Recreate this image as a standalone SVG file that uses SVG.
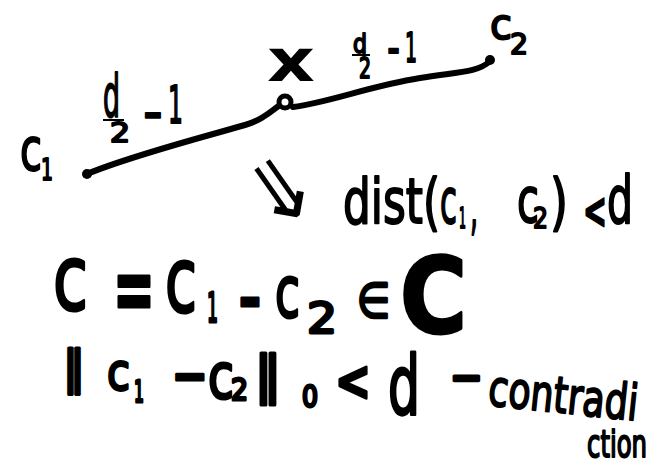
<svg xmlns="http://www.w3.org/2000/svg" width="656" height="470" viewBox="0 0 656 470">
<style>
.t{font-family:"DejaVu Sans","Liberation Sans",sans-serif;fill:#000}
.b{font-weight:bold}
.s2{stroke:#000;stroke-width:2;stroke-linejoin:round}
.s3{stroke:#000;stroke-width:3;stroke-linejoin:round}
.ln{fill:none;stroke:#000;stroke-width:6;stroke-linecap:round;stroke-linejoin:round}
</style>
<rect width="656" height="470" fill="#fff"/>
<g id="connectors">
<path class="ln" d="M87 174 C130 156,200 138,245 125 C262 120,270 112,280 105"/>
<path class="ln" d="M293 107 C330 102,370 86,420 78 C455 72,478 73,490 61"/>
</g>
<g id="c1">
<circle cx="87" cy="174" r="5"/>
<text class="t s2" font-size="58"><tspan x="20" y="170" textLength="22" lengthAdjust="spacingAndGlyphs">c</tspan><tspan x="41" y="180" font-size="30" textLength="12" lengthAdjust="spacingAndGlyphs">1</tspan></text>
</g>
<g id="c2">
<circle cx="490" cy="60" r="5"/>
<text class="t s2" font-size="42"><tspan x="490" y="39" textLength="22" lengthAdjust="spacingAndGlyphs">c</tspan><tspan x="510" y="54" font-size="28" textLength="18" lengthAdjust="spacingAndGlyphs">2</tspan></text>
</g>
<g id="x">
<circle cx="285" cy="102" r="6" fill="#fff" stroke="#000" stroke-width="5"/>
<text class="t b" x="267" y="81" font-size="58" textLength="48" lengthAdjust="spacingAndGlyphs">x</text>
</g>
<g id="label-left">
<line x1="103" y1="120" x2="124" y2="120" stroke="#000" stroke-width="2"/>
<text class="t s2" font-size="58"><tspan x="103" y="117" textLength="17" lengthAdjust="spacingAndGlyphs">d</tspan><tspan x="110" y="142" font-size="26" textLength="20" lengthAdjust="spacingAndGlyphs">2</tspan><tspan x="143" y="128" font-size="40" font-weight="bold" textLength="20" lengthAdjust="spacingAndGlyphs">−</tspan><tspan x="168" y="123" font-size="52" textLength="15" lengthAdjust="spacingAndGlyphs">1</tspan></text>
</g>
<g id="label-right">
<line x1="352" y1="55" x2="370" y2="55" stroke="#000" stroke-width="2"/>
<text class="t s2" font-size="27"><tspan x="353" y="53" textLength="14" lengthAdjust="spacingAndGlyphs">d</tspan><tspan x="359" y="78" font-size="28" textLength="12" lengthAdjust="spacingAndGlyphs">2</tspan><tspan x="387" y="62" font-size="36" font-weight="bold" textLength="13" lengthAdjust="spacingAndGlyphs">−</tspan><tspan x="405" y="62" font-size="40" textLength="12" lengthAdjust="spacingAndGlyphs">1</tspan></text>
</g>
<g id="implies">
<text class="t" x="280" y="217" font-size="86" text-anchor="middle" transform="rotate(55 280 190)">⇒</text>
<text class="t s2" font-size="62"><tspan x="343" y="223" textLength="97" lengthAdjust="spacingAndGlyphs">dist(</tspan><tspan x="440" y="223" textLength="17" lengthAdjust="spacingAndGlyphs">c</tspan><tspan x="459" y="228" font-size="28" textLength="7" lengthAdjust="spacingAndGlyphs">1</tspan><tspan x="470" y="228" textLength="8" lengthAdjust="spacingAndGlyphs">,</tspan><tspan x="517" y="222" textLength="22" lengthAdjust="spacingAndGlyphs">c</tspan><tspan x="533" y="228" font-size="28" textLength="15" lengthAdjust="spacingAndGlyphs">2</tspan><tspan x="550" y="223" textLength="18" lengthAdjust="spacingAndGlyphs">)</tspan><tspan x="583" y="228" font-size="50" font-weight="bold" textLength="24" lengthAdjust="spacingAndGlyphs">&lt;</tspan><tspan x="607" y="223" font-size="66" textLength="26" lengthAdjust="spacingAndGlyphs">d</tspan></text>
</g>
<g id="equation">
<text class="t s3" font-size="90"><tspan x="53" y="310" textLength="35" lengthAdjust="spacingAndGlyphs">c</tspan><tspan x="113" y="320" font-weight="bold" textLength="42" lengthAdjust="spacingAndGlyphs">=</tspan><tspan x="165" y="312" textLength="32" lengthAdjust="spacingAndGlyphs">c</tspan><tspan x="207" y="322" font-size="40" textLength="11" lengthAdjust="spacingAndGlyphs">1</tspan><tspan x="238" y="324" font-size="70" font-weight="bold" textLength="24" lengthAdjust="spacingAndGlyphs">−</tspan><tspan x="275" y="317" font-size="72" textLength="25" lengthAdjust="spacingAndGlyphs">c</tspan><tspan x="307" y="333" font-size="42" textLength="30" lengthAdjust="spacingAndGlyphs">2</tspan><tspan x="357" y="317" font-size="48" textLength="33" lengthAdjust="spacingAndGlyphs">∈</tspan><tspan x="400" y="333" font-size="105" font-weight="bold" textLength="67" lengthAdjust="spacingAndGlyphs">C</tspan></text>
</g>
<g id="norm">
<text class="t s3" font-size="52"><tspan x="63" y="383" font-size="46" textLength="22" lengthAdjust="spacingAndGlyphs">‖</tspan><tspan x="107" y="390" textLength="23" lengthAdjust="spacingAndGlyphs">c</tspan><tspan x="134" y="402" font-size="30" textLength="10" lengthAdjust="spacingAndGlyphs">1</tspan><tspan x="172" y="393" font-size="50" font-weight="bold" textLength="36" lengthAdjust="spacingAndGlyphs">−</tspan><tspan x="208" y="398" font-size="62" textLength="26" lengthAdjust="spacingAndGlyphs">c</tspan><tspan x="231" y="400" font-size="30" textLength="17" lengthAdjust="spacingAndGlyphs">2</tspan><tspan x="254" y="392" font-size="52" textLength="28" lengthAdjust="spacingAndGlyphs">‖</tspan><tspan x="302" y="407" font-size="30" textLength="16" lengthAdjust="spacingAndGlyphs">0</tspan><tspan x="335" y="400" font-size="55" font-weight="bold" textLength="36" lengthAdjust="spacingAndGlyphs">&lt;</tspan><tspan x="388" y="414" font-size="82" textLength="32" lengthAdjust="spacingAndGlyphs">d</tspan><tspan x="450" y="391" font-size="40" font-weight="bold" textLength="33" lengthAdjust="spacingAndGlyphs">−</tspan></text>
<text class="t s2" x="487" y="405" font-size="50" textLength="150" lengthAdjust="spacingAndGlyphs" transform="rotate(6 487 405)">contradi</text>
<text class="t s2" x="587" y="457" font-size="38" textLength="60" lengthAdjust="spacingAndGlyphs">ction</text>
</g>
</svg>
